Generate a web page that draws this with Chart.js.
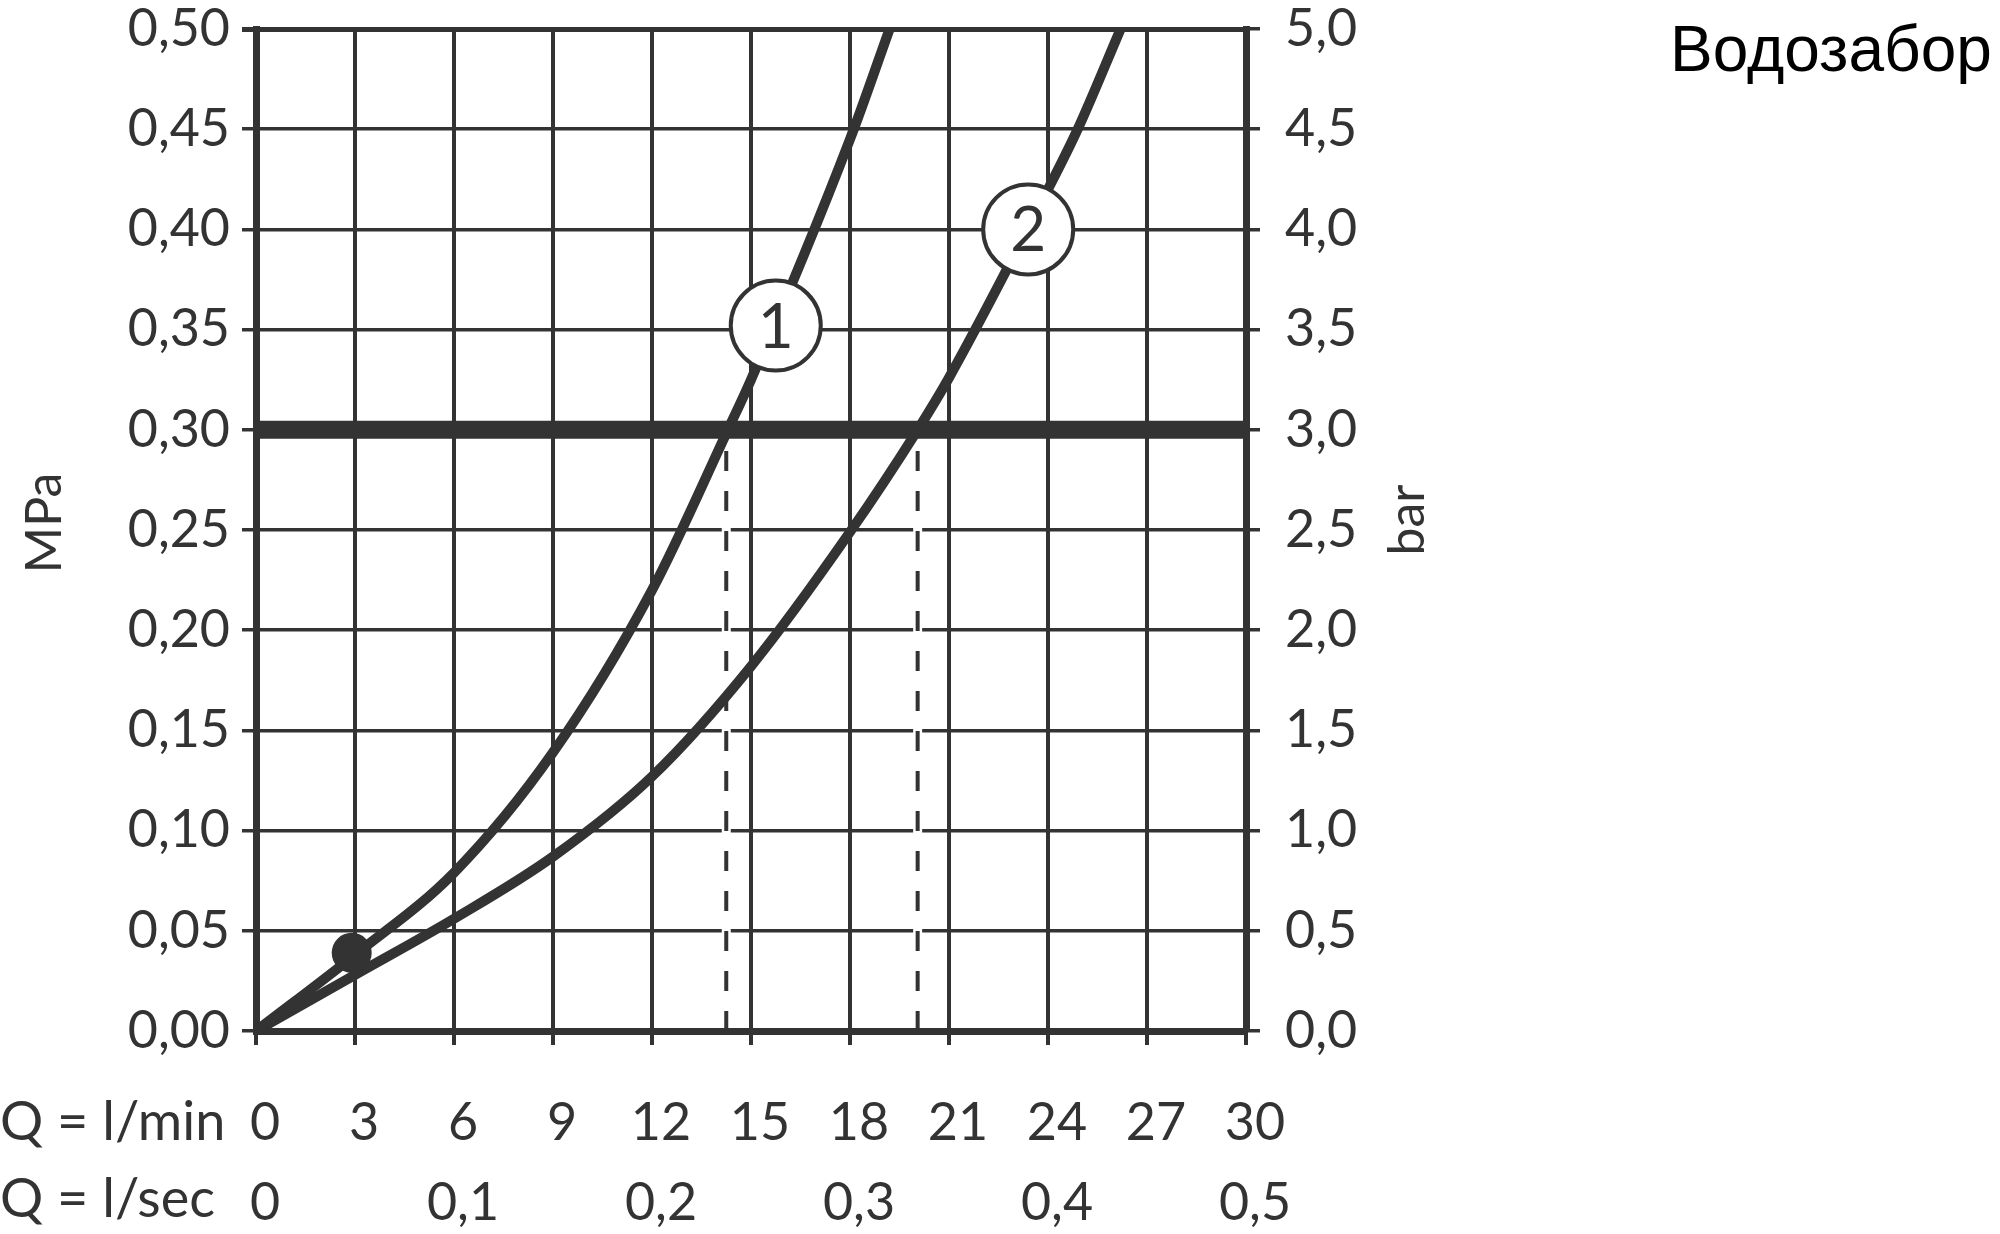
<!DOCTYPE html>
<html lang="ru">
<head>
  <meta charset="UTF-8">
  <title>Водозабор</title>
  <script src="https://cdn.jsdelivr.net/npm/chart.js"></script>
  <style>
    body {
      margin: 0;
      background: #fff;
    }
    #wrap {
      position: relative;
      width: 2000px;
      height: 1234px;
    }
    #title {
      position: absolute;
      left: 1670px;
      top: 17px;
      font-family: "Liberation Sans", Arial, sans-serif;
      font-size: 64px;
      line-height: 64px;
      color: #000;
    }
  </style>
</head>
<body>
  <div id="wrap">
    <canvas id="chart" width="2000" height="1234"></canvas>
    <div id="title">Водозабор</div>
  </div>

  <script>
    // tick labels
    const mpaTicks = ['0,00', '0,05', '0,10', '0,15', '0,20', '0,25', '0,30', '0,35', '0,40', '0,45', '0,50'];
    const barTicks = ['0,0', '0,5', '1,0', '1,5', '2,0', '2,5', '3,0', '3,5', '4,0', '4,5', '5,0'];
    const lminTicks = ['0', '3', '6', '9', '12', '15', '18', '21', '24', '27', '30'];
    const lsecTicks = ['0', '0,1', '0,2', '0,3', '0,4', '0,5'];

    // curve 1 and 2: flow (l/min) vs pressure (MPa)
    const curve1Q = [0, 3, 6, 9, 12, 14.3, 15, 18, 19.2];
    const curve1P = [0, 0.038, 0.079, 0.139, 0.22, 0.30, 0.325, 0.445, 0.50];
    const curve2Q = [0, 3, 6, 9, 12, 15, 18, 20.05, 21, 24, 24.9, 26.2];
    const curve2P = [0, 0.028, 0.056, 0.087, 0.127, 0.182, 0.249, 0.30, 0.326, 0.42, 0.45, 0.50];

    // 0,3 MPa limit and the flows where the curves cross it
    const limitP = 0.30;
    const limitQ = [14.25, 20.05];

    // numbered markers and the start point
    const markerLabels = ['1', '2'];
    const markerQ = [15.75, 23.4];
    const markerP = [0.352, 0.40];
    const dotQ = 2.9;
    const dotP = 0.039;

    const ink = '#333333';
    const tickFont = { family: 'Lato', size: 52, weight: 'normal', lineHeight: 1 };

    const pts = (xs, ys) => xs.map((v, i) => ({ x: v, y: ys[i] }));

    const datasets = [
      {
        data: [{ x: dotQ, y: dotP }],
        showLine: false, pointRadius: 20, pointBackgroundColor: ink, pointBorderWidth: 0, order: 0
      },
      {
        data: pts(markerQ, markerP),
        showLine: false, pointRadius: 45, pointBackgroundColor: '#fff',
        pointBorderColor: ink, pointBorderWidth: 4, order: 1
      },
      {
        data: pts(curve1Q, curve1P),
        borderColor: ink, borderWidth: 10, pointRadius: 0, cubicInterpolationMode: 'monotone',
        borderCapStyle: 'round', order: 2
      },
      {
        data: pts(curve2Q, curve2P),
        borderColor: ink, borderWidth: 10, pointRadius: 0, cubicInterpolationMode: 'monotone',
        borderCapStyle: 'round', order: 2
      },
      {
        data: [{ x: 0, y: limitP }, { x: 30, y: limitP }],
        borderColor: ink, borderWidth: 18, pointRadius: 0, order: 3
      }
    ];

    limitQ.forEach(q => {
      datasets.push({
        data: [{ x: q, y: 0 }, { x: q, y: limitP }],
        borderColor: ink, borderWidth: 4, borderDash: [20, 20], pointRadius: 0, order: 4
      });
      datasets.push({
        data: [{ x: q, y: 0.004 }, { x: q, y: limitP }],
        borderColor: '#fff', borderWidth: 9, pointRadius: 0, order: 5
      });
    });

    const extraText = {
      id: 'extraText',
      afterDatasetsDraw(chart) {
        const { ctx, scales: { x, y } } = chart;
        ctx.save();
        ctx.fillStyle = ink;
        ctx.textAlign = 'center';
        ctx.textBaseline = 'middle';
        ctx.font = '62px Lato';
        markerLabels.forEach((t, i) => {
          ctx.fillText(t, x.getPixelForValue(markerQ[i]), y.getPixelForValue(markerP[i]) + 2);
        });

        ctx.font = '54px Lato';
        ctx.textAlign = 'left';
        ctx.fillText('Q = l/min', 0, 1123);
        ctx.fillText('Q = l/sec', 0, 1200);

        ctx.font = '50px Lato';
        ctx.textAlign = 'center';
        [['MPa', 45, 523], ['bar', 1408, 520]].forEach(([t, tx, ty]) => {
          ctx.save();
          ctx.translate(tx, ty);
          ctx.rotate(-Math.PI / 2);
          ctx.fillText(t, 0, 0);
          ctx.restore();
        });
        ctx.restore();
      }
    };

    // fixed axis sizes so the plot area sits where it does in the original
    const fitY = w => s => { s.width = w; s.paddingTop = 0; s.paddingBottom = 0; };
    const fitX = h => s => { s.height = h; s.paddingLeft = 0; s.paddingRight = 0; };

    new Chart(document.getElementById('chart'), {
      type: 'line',
      data: { datasets },
      plugins: [extraText],
      options: {
        responsive: false,
        animation: false,
        events: [],
        layout: { autoPadding: false, padding: { top: 29, left: 0, right: 0, bottom: 0 } },
        plugins: { legend: { display: false }, tooltip: { enabled: false } },
        scales: {
          x: {
            type: 'linear', position: 'bottom', min: 0, max: 30, weight: 0,
            ticks: {
              stepSize: 3, autoSkip: false, maxRotation: 0, padding: 52, labelOffset: 9,
              color: ink, font: tickFont,
              callback: (v, i) => lminTicks[i]
            },
            grid: { color: ink, lineWidth: 4, tickLength: 14 },
            border: { color: ink, width: 7 },
            afterFit: fitX(120)
          },
          x2: {
            type: 'linear', position: 'bottom', min: 0, max: 0.5, weight: 1,
            ticks: {
              stepSize: 0.1, autoSkip: false, maxRotation: 0, padding: 18, labelOffset: 9,
              color: ink, font: tickFont,
              callback: (v, i) => lsecTicks[i]
            },
            grid: { display: false },
            border: { display: false },
            afterFit: fitX(83)
          },
          y: {
            type: 'linear', position: 'left', min: 0, max: 0.5,
            ticks: {
              stepSize: 0.05, padding: 12, color: ink, font: tickFont,
              callback: (v, i) => mpaTicks[i]
            },
            grid: {
              color: ink, tickLength: 14,
              lineWidth: c => (c.index === 10 ? 5 : 3.5)
            },
            border: { color: ink, width: 7 },
            afterFit: fitY(256)
          },
          y2: {
            type: 'linear', position: 'right', min: 0, max: 5,
            ticks: {
              stepSize: 0.5, padding: 25, color: ink, font: tickFont,
              callback: (v, i) => barTicks[i]
            },
            grid: { drawOnChartArea: false, color: ink, lineWidth: 3.5, tickLength: 14 },
            border: { color: ink, width: 7 },
            afterFit: fitY(754)
          }
        }
      }
    });
  </script>
</body>
</html>
